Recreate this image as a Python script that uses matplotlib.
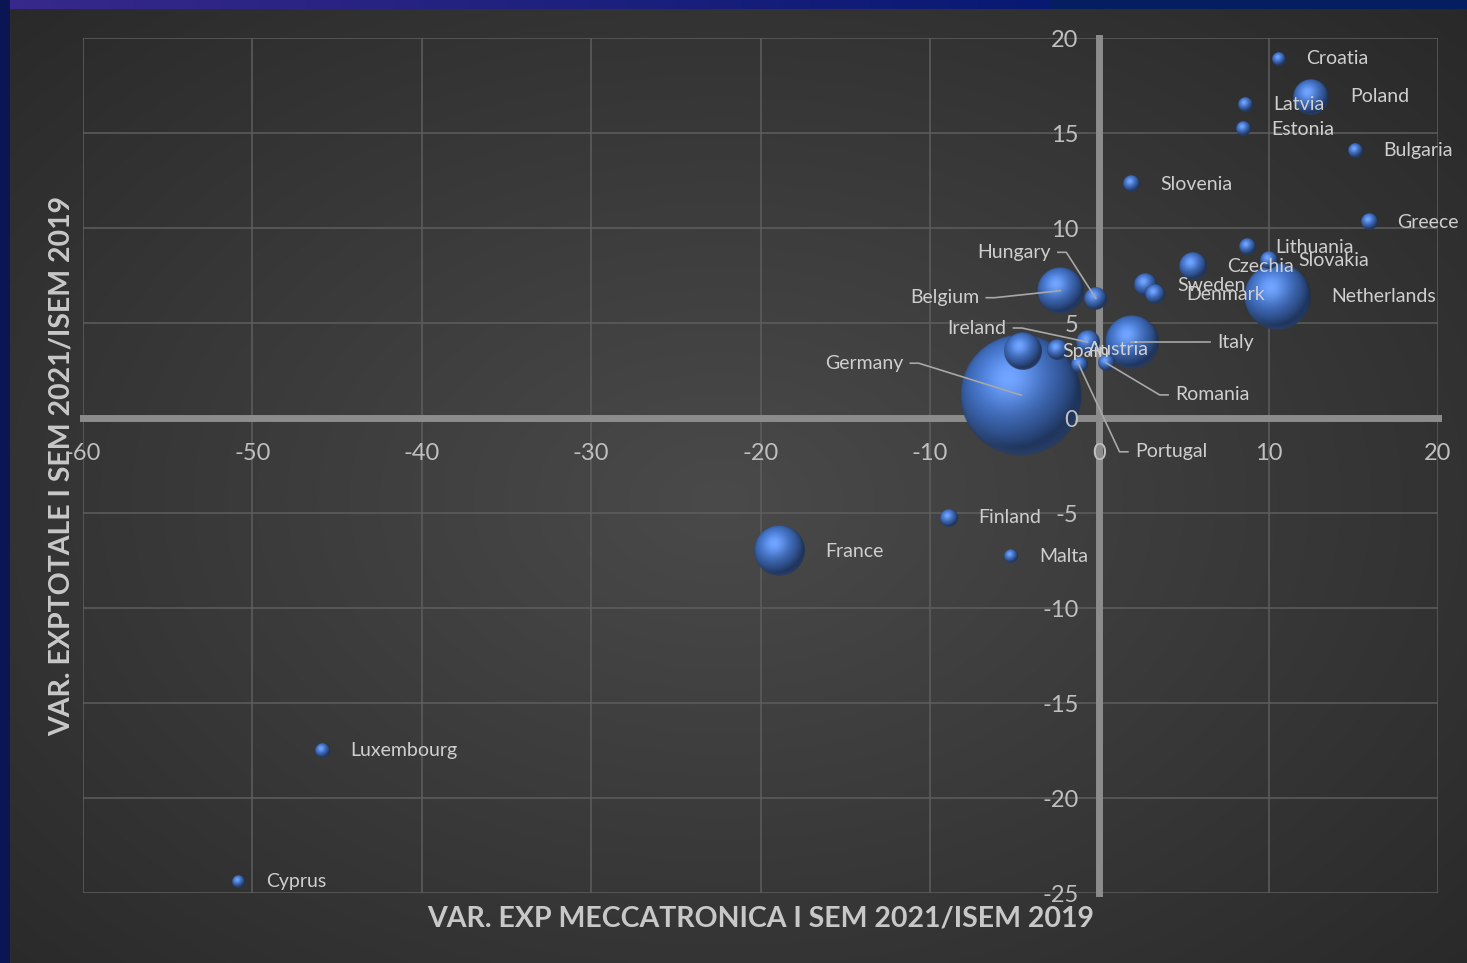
import numpy as np
import matplotlib.pyplot as plt
from matplotlib import transforms

plt.rcParams['font.family'] = ['Lato', 'DejaVu Sans']
plt.rcParams['axes.unicode_minus'] = False

# data
countries = ['Germany', 'Netherlands', 'Italy', 'France', 'Belgium', 'Spain', 'Poland',
             'Czechia', 'Ireland', 'Hungary', 'Sweden', 'Austria', 'Denmark', 'Slovakia',
             'Finland', 'Portugal', 'Romania', 'Slovenia', 'Greece', 'Lithuania', 'Bulgaria',
             'Latvia', 'Estonia', 'Luxembourg', 'Croatia', 'Malta', 'Cyprus']
var_mecc = [-4.6, 10.5, 1.9, -18.9, -2.3, -4.5, 12.5,
            5.5, -0.7, -0.2, 2.7, -2.5, 3.3, 10.0,
            -8.9, -1.2, 0.4, 1.9, 15.9, 8.7, 15.1,
            8.6, 8.5, -45.9, 10.6, -5.2, -50.8]
var_tot = [1.2, 6.4, 4.0, -7.0, 6.7, 3.5, 16.9,
           8.0, 4.0, 6.3, 7.0, 3.6, 6.5, 8.3,
           -5.25, 2.8, 2.9, 12.3, 10.3, 9.0, 14.1,
           16.5, 15.2, -17.5, 18.9, -7.3, -24.4]
exp_size = [372, 111, 71, 65, 53, 35, 32,
            19, 14, 13, 13, 10, 9.4, 8,
            8, 7, 7, 6.4, 6.4, 6.4, 5.6,
            4.9, 4.9, 4.9, 4.5, 4.5, 4.2]

xticks = np.arange(-60, 21, 10)
yticks = np.arange(-25, 21, 5)

# labels moved away from the bubble with a leader line: pixel offset, alignment
leaders = {
    'Hungary': (-45, 46, 'right'),
    'Belgium': (-81, -7, 'right'),
    'Ireland': (-81, 14, 'right'),
    'Germany': (-118, 32, 'right'),
    'Italy': (86, 0, 'left'),
    'Romania': (69, -32, 'left'),
    'Portugal': (56, -87, 'left'),
}

W, H = 1467, 963
fig = plt.figure(figsize=(W / 100, H / 100), dpi=100)

# background: dark gray with soft light in the middle, navy frame top/left
bg = fig.add_axes([0, 0, 1, 1])
bg.axis('off')
yy, xx = np.mgrid[0:H, 0:W]
d = np.hypot((xx - 720) / 950, (yy - 500) / 650)
g = np.clip(0.29 - 0.12 * d, 0.14, 0.3)
img = np.dstack([g, g, g])
t = np.clip(xx[:10, :] / 1050.0, 0, 1)[..., None]
top = (1 - t) * np.array([0.22, 0.16, 0.55]) + t * np.array([0.03, 0.10, 0.45])
top[:, 1050:] = [0.02, 0.12, 0.38]
img[:10, :] = top
img[:, :10] = [0.04, 0.09, 0.33]
bg.imshow(img, aspect='auto', extent=[0, 1, 0, 1], interpolation='bilinear')

ax = fig.add_axes([83 / W, 1 - 893 / H, 1355 / W, 855 / H])
ax.set_xlim(-60, 20)
ax.set_ylim(-25, 20)
ax.patch.set_alpha(0)

for v in xticks:
    ax.axvline(v, color='#5e5e5e', lw=1.1, zorder=1)
for v in yticks:
    ax.axhline(v, color='#5e5e5e', lw=1.1, zorder=1)

for s in ['top', 'right']:
    ax.spines[s].set_visible(False)
for s in ['left', 'bottom']:
    ax.spines[s].set_position(('data', 0))
    ax.spines[s].set_color('#8c8c8c')
    ax.spines[s].set_linewidth(5)
ax.set_xticks(xticks)
ax.set_yticks(yticks)
ax.tick_params(axis='x', length=0, labelsize=17, labelcolor='#bfbfbf', pad=18)
ax.tick_params(axis='y', length=0, labelsize=17, labelcolor='#bfbfbf', pad=15)
ax.xaxis.set_zorder(6)
ax.yaxis.set_zorder(6)


def sphere(n=200, base=(0.27, 0.46, 0.80)):
    v, u = np.mgrid[1:-1:n * 1j, -1:1:n * 1j]
    r = np.hypot(u, v)
    nz = np.sqrt(np.clip(1 - r ** 2, 0, 1))
    L = np.array([-0.35, 0.5, 0.8])
    L = L / np.linalg.norm(L)
    diff = np.clip(u * L[0] + v * L[1] + nz * L[2], 0, 1)
    Hv = L + np.array([0, 0, 1.0])
    Hv = Hv / np.linalg.norm(Hv)
    spec = np.clip(u * Hv[0] + v * Hv[1] + nz * Hv[2], 0, 1) ** 10
    base = np.array(base)
    col = base[None, None, :] * (0.5 + 0.6 * diff)[..., None] + 0.16 * spec[..., None]
    edge = 0.72 + 0.28 * np.sqrt(nz)
    col = col * edge[..., None]
    rim = np.clip((r - 0.85) / 0.15, 0, 1) * np.clip(-v, 0, 1)
    col = col + 0.06 * rim[..., None]
    col = np.clip(col, 0, 1)
    alpha = np.clip((1 - r) * n / 3.0, 0, 1)
    return np.dstack([col, alpha])


ball = sphere()
sx = ax.bbox.width / 80.0
sy = ax.bbox.height / 45.0
rmax = 61.0

order = np.argsort(exp_size)[::-1]
for k, i in enumerate(order):
    x, y = var_mecc[i], var_tot[i]
    r = rmax * np.sqrt(exp_size[i] / max(exp_size))
    ax.imshow(ball, extent=[x - r / sx, x + r / sx, y - r / sy, y + r / sy],
              aspect='auto', interpolation='bilinear', zorder=3 + k * 0.01)

    if countries[i] in leaders:
        dx, dy, ha = leaders[countries[i]]
        c = ax.transData.transform((x, y))
        side = 7 if ha == 'right' else -7
        pts = np.array([c + [dx + side, dy], c + [dx + 2.2 * side, dy], c])
        pts = ax.transData.inverted().transform(pts)
        ax.plot(pts[:, 0], pts[:, 1], color='#a8a8a8', lw=1.2, zorder=5)
    else:
        dx, dy, ha = r + 21, 0, 'left'
    tr = transforms.offset_copy(ax.transData, fig, x=dx, y=dy, units='dots')
    ax.text(x, y, countries[i], transform=tr, ha=ha, va='center',
            fontsize=14, color='#cfcfcf', zorder=7)

fig.text(760.5 / W, 1 - 918 / H, 'VAR. EXP MECCATRONICA I SEM 2021/ISEM 2019',
         ha='center', va='center', fontsize=20.5, fontweight='bold', color='#c8c8c8')
fig.text(62 / W, 1 - 466 / H, 'VAR. EXPTOTALE I SEM 2021/ISEM 2019', rotation=90,
         ha='center', va='center', fontsize=20.5, fontweight='bold', color='#c8c8c8')

fig.savefig('out.png', dpi=100)
